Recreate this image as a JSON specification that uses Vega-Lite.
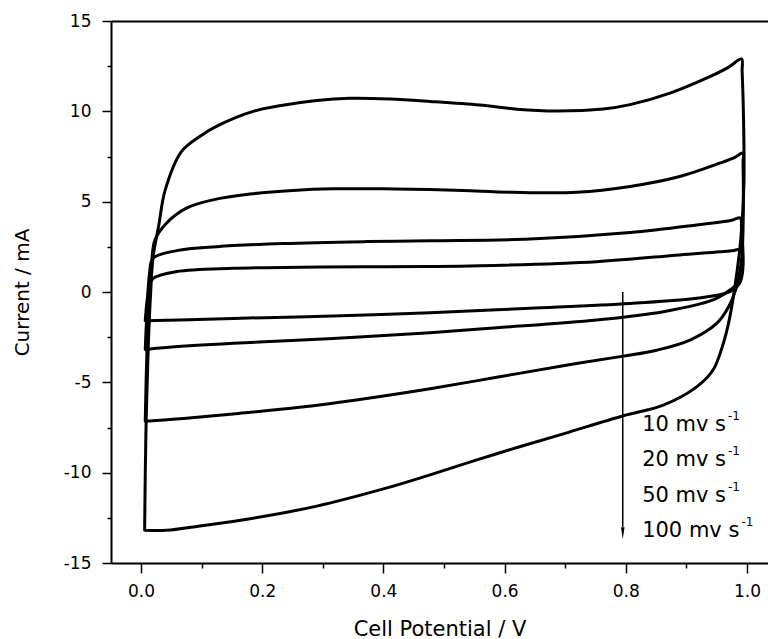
{
  "$schema": "https://vega.github.io/schema/vega-lite/v6.json",
  "width": 657,
  "height": 542,
  "autosize": {"type": "none"},
  "padding": {"left": 111, "top": 21, "right": 0, "bottom": 76},
  "background": "white",
  "config": {"view": {"stroke": null}},
  "datasets": {
    "cv": [
      {"s": "100", "i": 1, "x": 0.006, "y": -13.19},
      {"s": "100", "i": 2, "x": 0.008, "y": -8.0},
      {"s": "100", "i": 3, "x": 0.012, "y": -3.0},
      {"s": "100", "i": 4, "x": 0.016, "y": 0.0},
      {"s": "100", "i": 5, "x": 0.020, "y": 1.96},
      {"s": "100", "i": 6, "x": 0.029, "y": 3.62},
      {"s": "100", "i": 7, "x": 0.040, "y": 5.65},
      {"s": "100", "i": 8, "x": 0.067, "y": 7.78},
      {"s": "100", "i": 9, "x": 0.097, "y": 8.61},
      {"s": "100", "i": 10, "x": 0.130, "y": 9.26},
      {"s": "100", "i": 11, "x": 0.185, "y": 10.0},
      {"s": "100", "i": 12, "x": 0.229, "y": 10.31},
      {"s": "100", "i": 13, "x": 0.290, "y": 10.6},
      {"s": "100", "i": 14, "x": 0.345, "y": 10.72},
      {"s": "100", "i": 15, "x": 0.411, "y": 10.68},
      {"s": "100", "i": 16, "x": 0.477, "y": 10.55},
      {"s": "100", "i": 17, "x": 0.559, "y": 10.35},
      {"s": "100", "i": 18, "x": 0.620, "y": 10.12},
      {"s": "100", "i": 19, "x": 0.686, "y": 10.02},
      {"s": "100", "i": 20, "x": 0.763, "y": 10.13},
      {"s": "100", "i": 21, "x": 0.807, "y": 10.37},
      {"s": "100", "i": 22, "x": 0.873, "y": 11.01},
      {"s": "100", "i": 23, "x": 0.934, "y": 11.85},
      {"s": "100", "i": 24, "x": 0.970, "y": 12.45},
      {"s": "100", "i": 25, "x": 0.991, "y": 12.9},
      {"s": "100", "i": 26, "x": 0.992, "y": 12.2},
      {"s": "100", "i": 27, "x": 0.994, "y": 10.09},
      {"s": "100", "i": 28, "x": 0.995, "y": 6.0},
      {"s": "100", "i": 29, "x": 0.990, "y": 3.0},
      {"s": "100", "i": 30, "x": 0.981, "y": 0.5},
      {"s": "100", "i": 31, "x": 0.971, "y": -1.5},
      {"s": "100", "i": 32, "x": 0.961, "y": -2.84},
      {"s": "100", "i": 33, "x": 0.944, "y": -4.32},
      {"s": "100", "i": 34, "x": 0.917, "y": -5.25},
      {"s": "100", "i": 35, "x": 0.862, "y": -6.26},
      {"s": "100", "i": 36, "x": 0.796, "y": -6.85},
      {"s": "100", "i": 37, "x": 0.697, "y": -7.85},
      {"s": "100", "i": 38, "x": 0.587, "y": -8.95},
      {"s": "100", "i": 39, "x": 0.477, "y": -10.12},
      {"s": "100", "i": 40, "x": 0.400, "y": -10.9},
      {"s": "100", "i": 41, "x": 0.290, "y": -11.85},
      {"s": "100", "i": 42, "x": 0.180, "y": -12.55},
      {"s": "100", "i": 43, "x": 0.097, "y": -12.95},
      {"s": "100", "i": 44, "x": 0.042, "y": -13.19},
      {"s": "100", "i": 45, "x": 0.006, "y": -13.19},

      {"s": "50", "i": 1, "x": 0.007, "y": -7.15},
      {"s": "50", "i": 2, "x": 0.010, "y": -3.0},
      {"s": "50", "i": 3, "x": 0.014, "y": 0.0},
      {"s": "50", "i": 4, "x": 0.018, "y": 1.8},
      {"s": "50", "i": 5, "x": 0.023, "y": 2.88},
      {"s": "50", "i": 6, "x": 0.042, "y": 3.81},
      {"s": "50", "i": 7, "x": 0.075, "y": 4.64},
      {"s": "50", "i": 8, "x": 0.119, "y": 5.10},
      {"s": "50", "i": 9, "x": 0.180, "y": 5.42},
      {"s": "50", "i": 10, "x": 0.251, "y": 5.62},
      {"s": "50", "i": 11, "x": 0.317, "y": 5.71},
      {"s": "50", "i": 12, "x": 0.400, "y": 5.71},
      {"s": "50", "i": 13, "x": 0.477, "y": 5.67},
      {"s": "50", "i": 14, "x": 0.532, "y": 5.62},
      {"s": "50", "i": 15, "x": 0.614, "y": 5.52},
      {"s": "50", "i": 16, "x": 0.719, "y": 5.52},
      {"s": "50", "i": 17, "x": 0.807, "y": 5.84},
      {"s": "50", "i": 18, "x": 0.889, "y": 6.39},
      {"s": "50", "i": 19, "x": 0.955, "y": 7.13},
      {"s": "50", "i": 20, "x": 0.980, "y": 7.45},
      {"s": "50", "i": 21, "x": 0.993, "y": 7.69},
      {"s": "50", "i": 22, "x": 0.9935, "y": 7.1},
      {"s": "50", "i": 23, "x": 0.994, "y": 4.55},
      {"s": "50", "i": 24, "x": 0.991, "y": 1.77},
      {"s": "50", "i": 25, "x": 0.982, "y": 0.2},
      {"s": "50", "i": 26, "x": 0.970, "y": -0.8},
      {"s": "50", "i": 27, "x": 0.950, "y": -1.74},
      {"s": "50", "i": 28, "x": 0.906, "y": -2.66},
      {"s": "50", "i": 29, "x": 0.851, "y": -3.22},
      {"s": "50", "i": 30, "x": 0.796, "y": -3.55},
      {"s": "50", "i": 31, "x": 0.697, "y": -4.08},
      {"s": "50", "i": 32, "x": 0.587, "y": -4.72},
      {"s": "50", "i": 33, "x": 0.477, "y": -5.35},
      {"s": "50", "i": 34, "x": 0.372, "y": -5.89},
      {"s": "50", "i": 35, "x": 0.262, "y": -6.38},
      {"s": "50", "i": 36, "x": 0.152, "y": -6.75},
      {"s": "50", "i": 37, "x": 0.070, "y": -7.0},
      {"s": "50", "i": 38, "x": 0.007, "y": -7.15},

      {"s": "20", "i": 1, "x": 0.007, "y": -3.18},
      {"s": "20", "i": 2, "x": 0.010, "y": -1.0},
      {"s": "20", "i": 3, "x": 0.014, "y": 1.0},
      {"s": "20", "i": 4, "x": 0.020, "y": 1.87},
      {"s": "20", "i": 5, "x": 0.059, "y": 2.29},
      {"s": "20", "i": 6, "x": 0.125, "y": 2.51},
      {"s": "20", "i": 7, "x": 0.235, "y": 2.68},
      {"s": "20", "i": 8, "x": 0.372, "y": 2.79},
      {"s": "20", "i": 9, "x": 0.477, "y": 2.84},
      {"s": "20", "i": 10, "x": 0.642, "y": 2.93},
      {"s": "20", "i": 11, "x": 0.807, "y": 3.29},
      {"s": "20", "i": 12, "x": 0.917, "y": 3.71},
      {"s": "20", "i": 13, "x": 0.975, "y": 3.97},
      {"s": "20", "i": 14, "x": 0.989, "y": 4.1},
      {"s": "20", "i": 15, "x": 0.991, "y": 3.5},
      {"s": "20", "i": 16, "x": 0.993, "y": 1.5},
      {"s": "20", "i": 17, "x": 0.985, "y": 0.5},
      {"s": "20", "i": 18, "x": 0.972, "y": 0.11},
      {"s": "20", "i": 19, "x": 0.944, "y": -0.44},
      {"s": "20", "i": 20, "x": 0.862, "y": -1.09},
      {"s": "20", "i": 21, "x": 0.752, "y": -1.55},
      {"s": "20", "i": 22, "x": 0.587, "y": -1.98},
      {"s": "20", "i": 23, "x": 0.477, "y": -2.25},
      {"s": "20", "i": 24, "x": 0.317, "y": -2.57},
      {"s": "20", "i": 25, "x": 0.152, "y": -2.84},
      {"s": "20", "i": 26, "x": 0.042, "y": -3.07},
      {"s": "20", "i": 27, "x": 0.007, "y": -3.18},

      {"s": "10", "i": 1, "x": 0.007, "y": -1.59},
      {"s": "10", "i": 2, "x": 0.010, "y": -0.5},
      {"s": "10", "i": 3, "x": 0.014, "y": 0.3},
      {"s": "10", "i": 4, "x": 0.020, "y": 0.76},
      {"s": "10", "i": 5, "x": 0.059, "y": 1.13},
      {"s": "10", "i": 6, "x": 0.152, "y": 1.31},
      {"s": "10", "i": 7, "x": 0.262, "y": 1.37},
      {"s": "10", "i": 8, "x": 0.372, "y": 1.40},
      {"s": "10", "i": 9, "x": 0.477, "y": 1.41},
      {"s": "10", "i": 10, "x": 0.559, "y": 1.45},
      {"s": "10", "i": 11, "x": 0.752, "y": 1.68},
      {"s": "10", "i": 12, "x": 0.889, "y": 2.05},
      {"s": "10", "i": 13, "x": 0.975, "y": 2.28},
      {"s": "10", "i": 14, "x": 0.991, "y": 2.35},
      {"s": "10", "i": 15, "x": 0.993, "y": 1.9},
      {"s": "10", "i": 16, "x": 0.993, "y": 1.2},
      {"s": "10", "i": 17, "x": 0.988, "y": 0.5},
      {"s": "10", "i": 18, "x": 0.972, "y": 0.02},
      {"s": "10", "i": 19, "x": 0.917, "y": -0.35},
      {"s": "10", "i": 20, "x": 0.807, "y": -0.63},
      {"s": "10", "i": 21, "x": 0.642, "y": -0.90},
      {"s": "10", "i": 22, "x": 0.477, "y": -1.15},
      {"s": "10", "i": 23, "x": 0.317, "y": -1.33},
      {"s": "10", "i": 24, "x": 0.152, "y": -1.46},
      {"s": "10", "i": 25, "x": 0.064, "y": -1.55},
      {"s": "10", "i": 26, "x": 0.007, "y": -1.59}
    ],
    "labels": [
      {"label": "10 mv s", "x": 0.827, "y": -7.70},
      {"label": "20 mv s", "x": 0.827, "y": -9.64},
      {"label": "50 mv s", "x": 0.827, "y": -11.64},
      {"label": "100 mv s", "x": 0.827, "y": -13.58}
    ],
    "sups": [
      {"label": "-1", "x": 0.9686, "y": -7.09},
      {"label": "-1", "x": 0.9686, "y": -9.03},
      {"label": "-1", "x": 0.9686, "y": -11.03},
      {"label": "-1", "x": 0.991, "y": -12.97}
    ],
    "arrow": [
      {"x": 0.795, "y": 0, "y2": -13.0}
    ],
    "head": [
      {"x": 0.795, "y": -13.36}
    ]
  },
  "layer": [
    {
      "data": {"name": "cv"},
      "mark": {"type": "line", "color": "black", "strokeWidth": 3, "strokeJoin": "round", "strokeCap": "round", "interpolate": "catmull-rom"},
      "encoding": {
        "x": {
          "field": "x", "type": "quantitative",
          "scale": {"domain": [-0.0495, 1.0347], "nice": false, "zero": false},
          "axis": {
            "orient": "bottom",
            "values": [0, 0.2, 0.4, 0.6, 0.8, 1.0],
            "format": ".1f",
            "tickSize": 10,
            "labelPadding": 10,
            "labelFont": "DejaVu Sans", "labelFontSize": 17, "labelColor": "black",
            "labelFlush": false, "labelOverlap": false,
            "grid": false,
            "domainColor": "black", "domainWidth": 2,
            "tickColor": "black", "tickWidth": 1.5,
            "title": "Cell Potential / V",
            "titleFont": "DejaVu Sans", "titleFontSize": 21, "titleFontWeight": "normal", "titleColor": "black",
            "titleX": 328.5, "titleY": 72, "titleAlign": "center", "titleBaseline": "alphabetic"
          }
        },
        "y": {
          "field": "y", "type": "quantitative",
          "scale": {"domain": [-15, 15], "nice": false, "zero": false},
          "axis": {
            "orient": "left",
            "values": [-15, -10, -5, 0, 5, 10, 15],
            "labelExpr": "'' + datum.value",
            "tickSize": 9,
            "labelPadding": 11,
            "labelFont": "DejaVu Sans", "labelFontSize": 17, "labelColor": "black",
            "labelFlush": false, "labelOverlap": false,
            "grid": false,
            "domainColor": "black", "domainWidth": 2,
            "tickColor": "black", "tickWidth": 1.5,
            "title": "Current / mA",
            "titleFont": "DejaVu Sans", "titleFontSize": 20, "titleFontWeight": "normal", "titleColor": "black",
            "titleAngle": -90, "titleX": -89, "titleY": 271, "titleAlign": "center", "titleBaseline": "middle"
          }
        },
        "detail": {"field": "s"},
        "order": {"field": "i", "type": "quantitative"}
      }
    },
    {
      "data": {"name": "arrow"},
      "mark": {"type": "rule", "color": "black", "strokeWidth": 1.5},
      "encoding": {
        "x": {
          "field": "x", "type": "quantitative",
          "scale": {"domain": [-0.0495, 1.0347], "nice": false, "zero": false},
          "axis": {"orient": "top", "labels": false, "ticks": false, "title": null, "grid": false, "domainColor": "black", "domainWidth": 2}
        },
        "y": {"field": "y", "type": "quantitative", "scale": {"domain": [-15, 15], "nice": false, "zero": false}, "axis": null},
        "y2": {"field": "y2"}
      }
    },
    {
      "data": {"name": "head"},
      "mark": {"type": "point", "shape": "M-0.3,-1L0.3,-1L0,1Z", "size": 144, "filled": true, "color": "black", "opacity": 1, "strokeWidth": 0},
      "encoding": {
        "x": {
          "field": "x", "type": "quantitative",
          "scale": {"domain": [-0.0495, 1.0347], "nice": false, "zero": false},
          "axis": {"orient": "bottom", "values": [0.1, 0.3, 0.5, 0.7, 0.9], "labels": false, "domain": false, "grid": false, "title": null, "tickSize": 5, "tickColor": "black", "tickWidth": 1.5}
        },
        "y": {
          "field": "y", "type": "quantitative",
          "scale": {"domain": [-15, 15], "nice": false, "zero": false},
          "axis": {"orient": "left", "values": [-12.5, -7.5, -2.5, 2.5, 7.5, 12.5], "labels": false, "domain": false, "grid": false, "title": null, "tickSize": 4, "tickColor": "black", "tickWidth": 1.5}
        }
      }
    },
    {
      "data": {"name": "labels"},
      "mark": {"type": "text", "align": "left", "baseline": "alphabetic", "font": "DejaVu Sans", "fontSize": 21, "color": "black"},
      "encoding": {
        "x": {"field": "x", "type": "quantitative", "scale": {"domain": [-0.0495, 1.0347], "nice": false, "zero": false}, "axis": null},
        "y": {"field": "y", "type": "quantitative", "scale": {"domain": [-15, 15], "nice": false, "zero": false}, "axis": null},
        "text": {"field": "label"}
      }
    },
    {
      "data": {"name": "sups"},
      "mark": {"type": "text", "align": "left", "baseline": "alphabetic", "font": "DejaVu Sans", "fontSize": 12, "color": "black"},
      "encoding": {
        "x": {"field": "x", "type": "quantitative", "scale": {"domain": [-0.0495, 1.0347], "nice": false, "zero": false}, "axis": null},
        "y": {"field": "y", "type": "quantitative", "scale": {"domain": [-15, 15], "nice": false, "zero": false}, "axis": null},
        "text": {"field": "label"}
      }
    }
  ],
  "resolve": {"axis": {"x": "independent", "y": "independent"}}
}
